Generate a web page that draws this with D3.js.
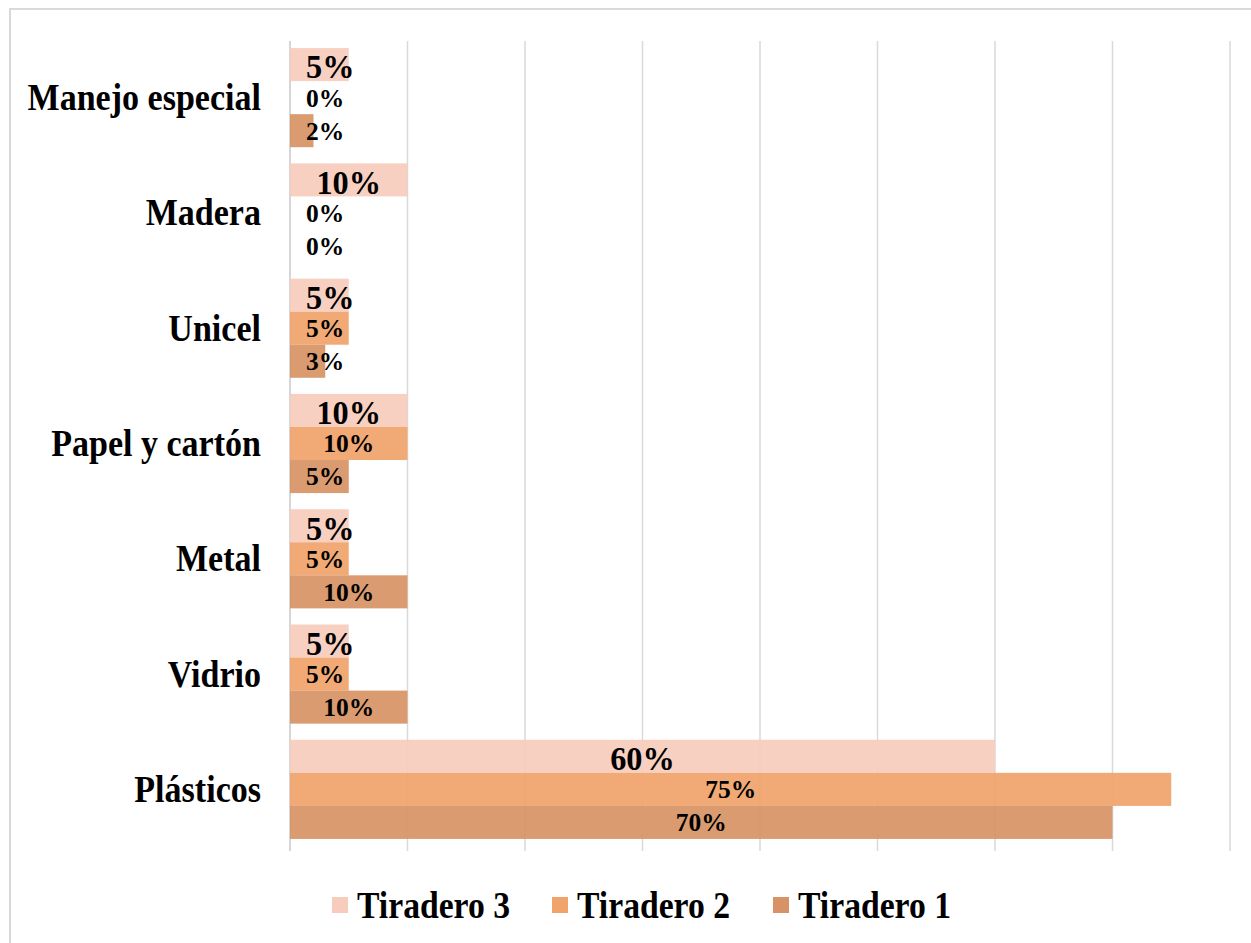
<!DOCTYPE html>
<html>
<head>
<meta charset="utf-8">
<script src="https://cdn.jsdelivr.net/npm/d3@7"></script>
<style>
  body { margin: 0; background: #fff; }
  svg { display: block; }
  text { font-family: "Liberation Serif", "Times New Roman", serif; font-weight: bold; fill: #000; }
</style>
</head>
<body>
<svg id="chart" width="1251" height="943"></svg>
<script>
// data
var categories = ["Manejo especial", "Madera", "Unicel", "Papel y cartón", "Metal", "Vidrio", "Plásticos"];
var seriesNames = ["Tiradero 3", "Tiradero 2", "Tiradero 1"];
var tiradero3 = [5, 10, 5, 10, 5, 5, 60];
var tiradero2 = [0, 0, 5, 10, 5, 5, 75];
var tiradero1 = [2, 0, 3, 5, 10, 10, 70];
var xTicks = [0, 10, 20, 30, 40, 50, 60, 70, 80];
var seriesColors = ["#f7ccbd", "#f0a36b", "#d79366"];

var values = [tiradero3, tiradero2, tiradero1];

var svg = d3.select("#chart");

// chart frame (only top/left edges fall inside the picture)
svg.append("rect")
    .attr("x", 10).attr("y", 9)
    .attr("width", 1400).attr("height", 1100)
    .attr("fill", "#fff")
    .attr("stroke", "#d9d9d9")
    .attr("stroke-width", 2);

var x = d3.scaleLinear().domain([0, 80]).range([290, 1230]);
var y = d3.scaleBand().domain(categories).range([40, 847]).paddingInner(0.14).paddingOuter(0.07);
var ySub = d3.scaleBand().domain(seriesNames).range([0, y.bandwidth()]);

// the source text is a bit taller than it is wide
var SX = 0.92;

// gridlines
svg.append("g")
    .selectAll("line")
    .data(xTicks)
    .enter().append("line")
    .attr("x1", function(d) { return x(d); })
    .attr("x2", function(d) { return x(d); })
    .attr("y1", 41)
    .attr("y2", 851)
    .attr("stroke", function(d) { return d === 0 ? "#c8c8c8" : "#d9d9d9"; })
    .attr("stroke-width", 1.5);

var rows = [];
categories.forEach(function(c, i) {
    seriesNames.forEach(function(s, j) {
        rows.push({ cat: c, series: s, si: j, value: values[j][i] });
    });
});

svg.append("g").attr("class", "bars")
    .selectAll("rect")
    .data(rows)
    .enter().append("rect")
    .attr("x", x(0))
    .attr("y", function(d) { return y(d.cat) + ySub(d.series); })
    .attr("width", function(d) { return x(d.value) - x(0); })
    .attr("height", ySub.bandwidth())
    .attr("fill", function(d) { return seriesColors[d.si]; })
    .attr("fill-opacity", 0.93);

// value labels: centered in the bar, but never closer than 16px to the axis
var labels = svg.append("g").selectAll("text")
    .data(rows)
    .enter().append("text")
    .attr("text-anchor", "middle")
    .attr("dominant-baseline", "central")
    .style("font-size", function(d) { return d.si === 0 ? "34px" : "25px"; })
    .text(function(d) { return d.value + "%"; });

labels.attr("transform", function(d) {
    var sx = d.si === 0 ? 0.95 : 1.02;
    var w = this.getComputedTextLength() * sx;
    var mid = (x(0) + x(d.value)) / 2;
    var cx = Math.max(mid, x(0) + 16 + w / 2);
    var cy = y(d.cat) + ySub(d.series) + ySub.bandwidth() / 2 + (d.si === 0 ? 2 : 0);
    return "translate(" + cx + "," + cy + ") scale(" + sx + ",1)";
});

// category labels
svg.append("g").selectAll("text")
    .data(categories)
    .enter().append("text")
    .attr("transform", function(d) {
        return "translate(261," + (y(d) + y.bandwidth() / 2) + ") scale(" + SX + ",1)";
    })
    .attr("text-anchor", "end")
    .attr("dominant-baseline", "central")
    .style("font-size", "37px")
    .text(function(d) { return d; });

// legend
var legendX = [332, 552, 773];
var legend = svg.append("g").selectAll("g")
    .data(seriesNames)
    .enter().append("g")
    .attr("transform", function(d, i) { return "translate(" + legendX[i] + ",905)"; });

legend.append("rect")
    .attr("x", 0).attr("y", -8)
    .attr("width", 16).attr("height", 16)
    .attr("fill", function(d, i) { return seriesColors[i]; });

legend.append("text")
    .attr("transform", "translate(25,0) scale(0.91,1)")
    .attr("dominant-baseline", "central")
    .style("font-size", "37px")
    .text(function(d) { return d; });
</script>
</body>
</html>
